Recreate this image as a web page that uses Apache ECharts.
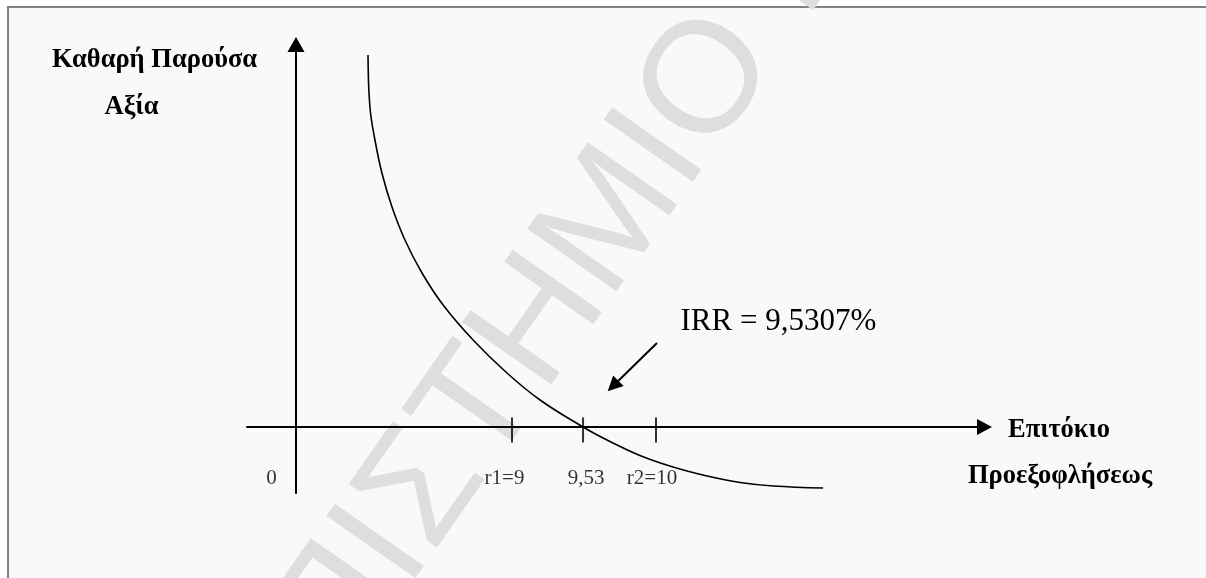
<!DOCTYPE html>
<html>
<head>
<meta charset="utf-8">
<title>IRR</title>
<script src="https://cdn.jsdelivr.net/npm/echarts@6.0.0/dist/echarts.min.js"></script>
<style>
	html, body { margin: 0; padding: 0; background: #ffffff; }
	#irrChartContainer { width: 1206px; height: 578px; }
</style>
</head>
<body>
<div id="irrChartContainer"></div>
<script>
// schematic units: x = position on the rate axis, y = NPV
var curveRate = [3.00, 3.08, 3.29, 3.58, 4.00, 4.54, 5.25, 6.13, 7.38, 8.79, 10.17, 11.96, 12.96, 14.33, 15.71, 17.13, 18.50, 19.88, 21.96];
var curveNpv = [82.67, 71.11, 63.78, 56.44, 48.89, 41.56, 34.22, 27.11, 19.33, 12.00, 6.00, 0, -2.89, -6.33, -8.89, -10.89, -12.33, -13.11, -13.56];

var tickRate = [0, 9, 11.96, 15];
var tickLabels = ['0', 'r1=9', '9,53', 'r2=10'];

var irrArrowRate = [15.04, 13.21];
var irrArrowNpv = [18.67, 9.11];
var irrText = 'IRR = 9,5307%';

var yAxisTitle = ['Καθαρή Παρούσα', 'Αξία'];
var xAxisTitle = ['Επιτόκιο', 'Προεξοφλήσεως'];
var watermarkText = ['ΠΑΝΕΠΙΣΤΗΜΙΟ', 'ΠΕΙΡΑΙΩΣ'];

var irrChart = {
	/**
	 * curve points
	 */
	buildCurveData : function() {
		var data = new Array();
		for (var i = 0; i < curveRate.length; i++) {
			data.push([curveRate[i], curveNpv[i]]);
		}
		return data;
	},

	/**
	 * small ticks on the rate axis, with their labels
	 */
	buildTickData : function() {
		var labelOffsetX = [-24.5, -7.5, 3, -4];
		var data = new Array();
		for (var i = 0; i < tickRate.length; i++) {
			data.push({
				name: tickLabels[i],
				value: [tickRate[i], 0],
				label: { offset: [labelOffsetX[i], 48] }
			});
		}
		return data;
	},

	/**
	 * show chart
	 */
	showChart : function() {
		var myChart = echarts.init(document.getElementById('irrChartContainer'));
		var serif = 'Liberation Serif, Times New Roman, serif';
		var bold = { fontFamily: serif, fontWeight: 'bold', fontSize: 26.5, fill: '#000', align: 'center', verticalAlign: 'middle' };
		var wm = { fontFamily: 'Liberation Sans, Arial, sans-serif', fontSize: 158, fill: '#dedede', verticalAlign: 'middle' };
		var angle = 55 * Math.PI / 180;

		var option = {
			animation: false,
			backgroundColor: '#ffffff',
			grid: { left: 247, right: 221.5, top: 44.5, bottom: 85 },
			xAxis: {
				type: 'value',
				min: -2.0417,
				max: 28.6875,
				axisLine: { onZero: true, symbol: ['none', 'triangle'], symbolSize: [16, 15], lineStyle: { color: '#000', width: 2 } },
				axisTick: { show: false },
				axisLabel: { show: false },
				splitLine: { show: false }
			},
			yAxis: {
				type: 'value',
				min: -14.6667,
				max: 85,
				axisLine: { onZero: true, symbol: ['none', 'triangle'], symbolSize: [17, 15], lineStyle: { color: '#000', width: 2 } },
				axisTick: { show: false },
				axisLabel: { show: false },
				splitLine: { show: false }
			},
			graphic: [
				{ type: 'rect', z: -10, silent: true, shape: { x: 8, y: 7, width: 1400, height: 800 }, style: { fill: '#f9f9f9', stroke: '#828282', lineWidth: 2 } },
				{ type: 'text', z: -9, silent: true, x: 744.6, y: 32.2, rotation: angle, style: Object.assign({ text: watermarkText[0], align: 'right' }, wm) },
				{ type: 'text', z: -9, silent: true, x: 770.1, y: -4.2, rotation: angle, style: Object.assign({ text: watermarkText[1], align: 'left' }, wm) },
				{ type: 'text', x: 154.5, y: 60, style: Object.assign({ text: yAxisTitle[0] }, bold) },
				{ type: 'text', x: 131.5, y: 107, style: Object.assign({ text: yAxisTitle[1] }, bold) },
				{ type: 'text', x: 1059, y: 430, style: Object.assign({ text: xAxisTitle[0] }, bold) },
				{ type: 'text', x: 1060, y: 476, style: Object.assign({ text: xAxisTitle[1] }, bold) },
				{ type: 'text', x: 680.5, y: 322, style: { text: irrText, fontFamily: serif, fontSize: 31, fill: '#000', align: 'left', verticalAlign: 'middle' } }
			],
			series: [
				{
					name: 'NPV',
					type: 'line',
					data: irrChart.buildCurveData(),
					smooth: 0.4,
					showSymbol: false,
					silent: true,
					lineStyle: { color: '#000', width: 1.6 }
				},
				{
					name: 'ticks',
					type: 'scatter',
					data: irrChart.buildTickData(),
					symbol: 'rect',
					symbolSize: [2, 25],
					symbolOffset: [0, 3],
					silent: true,
					itemStyle: { color: '#000' },
					label: {
						show: true,
						position: 'inside',
						formatter: '{b}',
						fontFamily: serif,
						fontSize: 21,
						color: '#000'
					}
				},
				{
					name: 'irrArrow',
					type: 'lines',
					coordinateSystem: 'cartesian2d',
					silent: true,
					symbol: ['none', 'triangle'],
					symbolSize: 15,
					lineStyle: { color: '#000', width: 2, opacity: 1 },
					data: [{ coords: [[irrArrowRate[0], irrArrowNpv[0]], [irrArrowRate[1], irrArrowNpv[1]]] }]
				}
			]
		};
		myChart.setOption(option);
	}
};

irrChart.showChart();
</script>
</body>
</html>
